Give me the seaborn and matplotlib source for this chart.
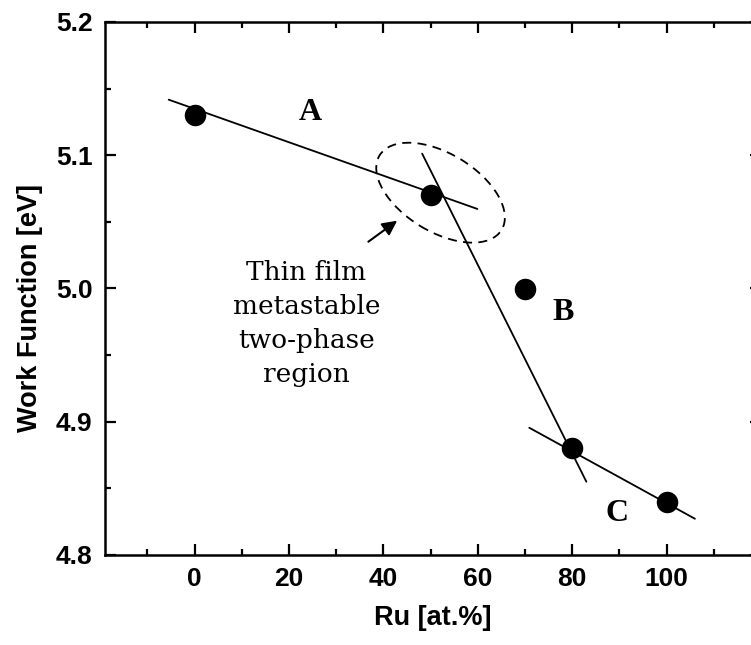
import matplotlib
matplotlib.use("Agg")
import matplotlib.pyplot as plt
from matplotlib.patches import Ellipse
from matplotlib.transforms import IdentityTransform
from matplotlib.ticker import MultipleLocator, FormatStrFormatter
import seaborn as sns
import pandas as pd

# ---- data ----
ru_pct = [0, 50, 70, 80, 100]
work_function = [5.13, 5.07, 5.00, 4.88, 4.84]

lineA_x = [-5.5, 59.9]
lineA_y = [5.1417, 5.0597]
lineB_x = [48.2, 83.0]
lineB_y = [5.1012, 4.855]
lineC_x = [70.9, 106.0]
lineC_y = [4.8955, 4.8272]

region_labels = ["A", "B", "C"]
region_x = [24.6, 78.1, 89.5]
region_y = [5.132, 4.982, 4.831]

note_text = "Thin film\nmetastable\ntwo-phase\nregion"

sns.set_theme(style="ticks")
plt.rcParams["font.family"] = ["Liberation Sans", "DejaVu Sans"]
plt.rcParams["text.color"] = "black"
plt.rcParams["axes.labelcolor"] = "black"
plt.rcParams["xtick.color"] = "black"
plt.rcParams["ytick.color"] = "black"
plt.rcParams["xtick.labelcolor"] = "black"
plt.rcParams["ytick.labelcolor"] = "black"

fig = plt.figure(figsize=(7.51, 6.45), dpi=100)
ax = fig.add_axes([105/751, 90/645, 656/751, 533/645])

df = pd.DataFrame({"Ru": ru_pct, "WF": work_function})

for lx, ly in [(lineA_x, lineA_y), (lineB_x, lineB_y), (lineC_x, lineC_y)]:
    sns.lineplot(x=lx, y=ly, ax=ax, color="black", linewidth=1.3, sort=False,
                 estimator=None, legend=False)

sns.scatterplot(data=df, x="Ru", y="WF", ax=ax, color="black", s=240,
                edgecolor="black", linewidth=0, zorder=5, legend=False)

ax.set_xlim(-19, 120)
ax.set_ylim(4.8, 5.2)
ax.set_xticks([0, 20, 40, 60, 80, 100])
ax.xaxis.set_minor_locator(MultipleLocator(10))
ax.yaxis.set_major_locator(MultipleLocator(0.1))
ax.yaxis.set_minor_locator(MultipleLocator(0.05))
ax.yaxis.set_major_formatter(FormatStrFormatter("%.1f"))

for s in ax.spines.values():
    s.set_linewidth(1.8)
    s.set_color("black")
    s.set_visible(True)

ax.tick_params(which="both", direction="in", top=True, right=True, width=1.6,
               color="black")
ax.tick_params(which="major", length=8, pad=9, labelsize=19)
ax.tick_params(which="minor", length=4.5)
for lab in ax.get_xticklabels() + ax.get_yticklabels():
    lab.set_fontweight("bold")
    lab.set_color("black")

ax.set_xlabel("Ru [at.%]", fontsize=19.5, fontweight="bold", labelpad=10,
              color="black")
ax.set_ylabel("")
fig.text(30/751, 1 - 308/645, "Work Function [eV]", rotation=90, fontsize=19.5,
         fontweight="bold", ha="center", va="center", color="black")

for t, x, y in zip(region_labels, region_x, region_y):
    ax.text(x, y, t, fontsize=23, fontweight="bold", family="Liberation Serif",
            ha="center", va="center", color="black")

ax.text(23.7, 4.974, note_text, fontsize=19, family="DejaVu Serif",
        ha="center", va="center", linespacing=1.45, color="black")

ax.annotate("", xy=(42.9, 5.0509), xytext=(36.8, 5.0351),
            arrowprops=dict(arrowstyle="-|>", mutation_scale=22, lw=1.5,
                            color="black", shrinkA=0, shrinkB=0))

# dashed ellipse marking the two-phase region
fig.canvas.draw()
cx, cy = ax.transData.transform((52.1, 5.0719))
ell = Ellipse((cx, cy), 143, 78, angle=-31.4, transform=IdentityTransform(),
              fill=False, edgecolor="black", linewidth=1.3,
              linestyle=(0, (5, 3.5)))
ax.add_artist(ell)

fig.savefig("out.png", dpi=100)
